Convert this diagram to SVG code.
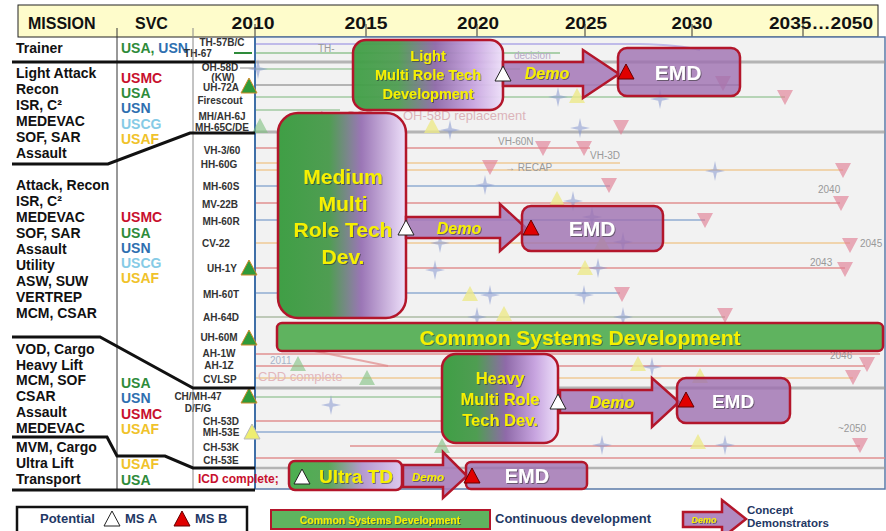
<svg xmlns="http://www.w3.org/2000/svg" width="886" height="531" viewBox="0 0 886 531">
<defs>
<style>
.hdr{font-family:"Liberation Sans",Arial,sans-serif;font-weight:bold;font-size:16px;fill:#111}
.mis{font-family:"Liberation Sans",Arial,sans-serif;font-weight:bold;font-size:14px;fill:#111}
.svc{font-family:"Liberation Sans",Arial,sans-serif;font-weight:bold;font-size:14px}
.usmc{fill:#c8102e}.usa{fill:#2e8b3a}.usn{fill:#2e6fb0}.uscg{fill:#86cbe6}.usaf{fill:#f0c22a}
.ac{font-family:"Liberation Sans",Arial,sans-serif;font-weight:bold;font-size:10px;fill:#333;text-anchor:middle}
.sep{fill:none;stroke:#111;stroke-width:3}
.box{stroke:#b3162b;stroke-width:2.5}
.yt{font-family:"Liberation Sans",Arial,sans-serif;font-weight:bold;fill:#f6f000;text-anchor:middle;filter:url(#sh)}
.emd{font-family:"Liberation Sans",Arial,sans-serif;font-weight:bold;fill:#fff;text-anchor:middle;filter:url(#sh)}
.demo{font-family:"Liberation Sans",Arial,sans-serif;font-weight:bold;font-style:italic;fill:#f6f000;text-anchor:middle;filter:url(#sh)}
.arrow{fill:#a67ab8;fill-opacity:.88;stroke:#b3162b;stroke-width:2.5;stroke-linejoin:miter}
.emdbox{fill:#9e6fb0;fill-opacity:.8}
.tw{fill:#fff;stroke:#222;stroke-width:1}
.tr{fill:#e00000;stroke:#600;stroke-width:1}
.bl{stroke-width:2;fill:none}
.faint{font-family:"Liberation Sans",Arial,sans-serif;font-size:10px;fill:#999}
.leg{font-family:"Liberation Sans",Arial,sans-serif;font-weight:bold;fill:#1f3864}
</style>
<filter id="sh" x="-10%" y="-20%" width="130%" height="150%"><feDropShadow dx="1" dy="1" stdDeviation="0.7" flood-color="#333" flood-opacity="0.55"/></filter>
<linearGradient id="mrtd" x1="0" y1="0" x2="1" y2="0">
<stop offset="0" stop-color="#3f9f45"/><stop offset="0.3" stop-color="#4f9d52"/><stop offset="0.55" stop-color="#8f6aa9"/><stop offset="0.8" stop-color="#c7a4df"/><stop offset="1" stop-color="#eee0fa"/>
</linearGradient>
<linearGradient id="mrtd2" x1="0" y1="0" x2="1" y2="0">
<stop offset="0" stop-color="#3f9f45"/><stop offset="0.4" stop-color="#4f9d52"/><stop offset="0.65" stop-color="#9b76b6"/><stop offset="1" stop-color="#eee0fa"/>
</linearGradient>
<linearGradient id="ultra" x1="0" y1="0" x2="1" y2="0">
<stop offset="0" stop-color="#4caf50"/><stop offset="0.35" stop-color="#5aa85a"/><stop offset="0.65" stop-color="#b59ad0"/><stop offset="1" stop-color="#dcc8ee"/>
</linearGradient>
<path id="star" d="M0,-10 L1.8,-1.8 L10,0 L1.8,1.8 L0,10 L-1.8,1.8 L-10,0 L-1.8,-1.8 Z" fill="#8797cf" fill-opacity="0.55"/>
<path id="dn" d="M-8,-7 L8,-7 L0,8 Z" fill="#e07f95" fill-opacity="0.65"/>
<path id="upy" d="M0,-8 L8,7 L-8,7 Z" fill="#ece98a" fill-opacity="0.8"/>
<path id="upg" d="M0,-8 L8,7 L-8,7 Z" fill="#7fbf7f" fill-opacity="0.6"/>
<path id="upG" d="M0,-8 L8,7 L-8,7 Z" fill="#2f9a3a" stroke="#d08a2a" stroke-width="1"/>
<path id="tri" d="M0,-8 L8,7 L-8,7 Z"/>
</defs>

<rect x="0" y="0" width="886" height="531" fill="#fff"/>

<g id="header">
<rect x="18" y="5" width="860" height="32" fill="#fefccb" stroke="#222" stroke-width="1"/>
<text class="hdr" x="28" y="29">MISSION</text>
<text class="hdr" x="135" y="29">SVC</text>
<text class="hdr" x="253" y="29" text-anchor="middle" textLength="43" lengthAdjust="spacingAndGlyphs" font-size="17">2010</text>
<text class="hdr" x="366" y="29" text-anchor="middle" textLength="43" lengthAdjust="spacingAndGlyphs" font-size="17">2015</text>
<text class="hdr" x="478" y="29" text-anchor="middle" textLength="42" lengthAdjust="spacingAndGlyphs" font-size="17">2020</text>
<text class="hdr" x="586" y="29" text-anchor="middle" textLength="42" lengthAdjust="spacingAndGlyphs" font-size="17">2025</text>
<text class="hdr" x="692" y="29" text-anchor="middle" textLength="41" lengthAdjust="spacingAndGlyphs" font-size="17">2030</text>
<text class="hdr" x="821" y="29" text-anchor="middle" textLength="104" lengthAdjust="spacingAndGlyphs" font-size="17">2035…2050</text>
<g stroke="#333" stroke-width="1">
<line x1="255" y1="24" x2="255" y2="37"/><line x1="366" y1="24" x2="366" y2="37"/><line x1="477" y1="24" x2="477" y2="37"/>
<line x1="585" y1="24" x2="585" y2="37"/><line x1="692" y1="24" x2="692" y2="37"/><line x1="803" y1="24" x2="803" y2="37"/>
</g>
</g>

<g id="timeline-panel">
<rect x="255" y="37" width="630" height="452" fill="#f2f2f2" stroke="#5a7aa8" stroke-width="1.5"/>
<g class="bl" stroke-opacity="0.7">
<path d="M255,44 L640,44 Q680,45 700,50" stroke="#aaa2e6"/>
<line x1="255" y1="53" x2="560" y2="53" stroke="#8cc08c"/>
<line x1="255" y1="62" x2="885" y2="62" stroke="#9a9a9a" stroke-width="3"/>
<line x1="255" y1="69" x2="520" y2="69" stroke="#9cc89c"/>
<line x1="255" y1="85" x2="740" y2="85" stroke="#9a9a9a"/>
<line x1="255" y1="97" x2="785" y2="97" stroke="#9cc89c"/>
<line x1="255" y1="110" x2="340" y2="110" stroke="#9cc89c"/>
<line x1="255" y1="132" x2="885" y2="132" stroke="#9a9a9a" stroke-width="3"/>
<line x1="255" y1="148" x2="590" y2="148" stroke="#e08a8a"/>
<line x1="255" y1="163" x2="620" y2="163" stroke="#f0c890"/>
<line x1="255" y1="170" x2="843" y2="170" stroke="#f0c890"/>
<line x1="255" y1="186" x2="610" y2="186" stroke="#8aa8d0"/>
<line x1="255" y1="203" x2="840" y2="203" stroke="#e08a8a"/>
<line x1="255" y1="220" x2="705" y2="220" stroke="#8aa8d0"/>
<line x1="255" y1="243" x2="850" y2="243" stroke="#f0c890"/>
<line x1="255" y1="268" x2="845" y2="268" stroke="#e08a8a"/>
<line x1="255" y1="293" x2="620" y2="293" stroke="#8aa8d0"/>
<line x1="255" y1="317" x2="725" y2="317" stroke="#a8b8a0"/>
<line x1="255" y1="354" x2="880" y2="354" stroke="#e08a8a"/>
<line x1="255" y1="366" x2="865" y2="366" stroke="#e08a8a"/>
<line x1="255" y1="378" x2="853" y2="378" stroke="#f0c890"/>
<line x1="255" y1="388" x2="885" y2="388" stroke="#9a9a9a" stroke-width="3"/>
<line x1="255" y1="397" x2="442" y2="397" stroke="#9cc89c"/>
<line x1="255" y1="421" x2="442" y2="421" stroke="#e08a8a"/>
<line x1="255" y1="432" x2="442" y2="432" stroke="#8aa8d0"/>
<line x1="350" y1="446" x2="860" y2="446" stroke="#e08a8a"/>
<line x1="255" y1="458" x2="885" y2="458" stroke="#e08a8a"/>
<line x1="255" y1="468" x2="885" y2="468" stroke="#9a9a9a" stroke-width="2.5"/>
<line x1="280" y1="344" x2="388" y2="366" stroke="#e08a8a"/>
</g>
<line x1="255" y1="37" x2="255" y2="489" stroke="#3f6fa8" stroke-width="2"/>
<g>
<use href="#star" x="258" y="69"/><use href="#star" x="286" y="150"/><use href="#star" x="450" y="130"/>
<use href="#star" x="558" y="97"/><use href="#star" x="660" y="99"/><use href="#star" x="580" y="128"/>
<use href="#star" x="485" y="185"/><use href="#star" x="715" y="171"/><use href="#star" x="573" y="201"/>
<use href="#star" x="592" y="217"/><use href="#star" x="623" y="242"/><use href="#star" x="598" y="268"/>
<use href="#star" x="440" y="243"/><use href="#star" x="435" y="270"/><use href="#star" x="490" y="295"/>
<use href="#star" x="477" y="317"/><use href="#star" x="584" y="295"/><use href="#star" x="623" y="317"/>
<use href="#star" x="652" y="367"/><use href="#star" x="602" y="445"/><use href="#star" x="725" y="445"/>
<use href="#star" x="622" y="402"/><use href="#star" x="331" y="405"/>
<use href="#dn" x="723" y="83"/><use href="#dn" x="785" y="97"/><use href="#dn" x="621" y="127"/>
<use href="#dn" x="543" y="148"/><use href="#dn" x="584" y="148"/><use href="#dn" x="490" y="167"/>
<use href="#dn" x="609" y="185"/><use href="#dn" x="843" y="170"/><use href="#dn" x="841" y="203"/>
<use href="#dn" x="705" y="220"/><use href="#dn" x="850" y="245"/><use href="#dn" x="845" y="269"/>
<use href="#dn" x="622" y="294"/><use href="#dn" x="725" y="315"/><use href="#dn" x="867" y="364"/>
<use href="#dn" x="853" y="377"/><use href="#dn" x="860" y="445"/>
<use href="#upy" x="432" y="126"/><use href="#upy" x="577" y="96"/><use href="#upy" x="557" y="199"/>
<use href="#upy" x="470" y="294"/><use href="#upy" x="504" y="314"/><use href="#upy" x="585" y="268"/>
<use href="#upy" x="638" y="364"/><use href="#upy" x="700" y="376"/><use href="#upy" x="698" y="442"/>
<use href="#upy" x="602" y="243"/>
<use href="#upg" x="260" y="126"/><use href="#upg" x="298" y="364"/><use href="#upg" x="367" y="378"/>
<use href="#upg" x="442" y="446"/>
</g>
<g class="faint">
<text x="318" y="52">TH-</text>
<text x="514" y="59" fill="#b9a9c8">decision</text>
<text x="320" y="120" font-size="13" fill="#dcb4ba">Iraq OCD</text>
<text x="403" y="120" font-size="13" fill="#dcb4ba">OH-58D replacement</text>
<text x="498" y="145">VH-60N</text>
<text x="590" y="159">VH-3D</text>
<text x="505" y="171">→ RECAP</text>
<text x="818" y="193">2040</text>
<text x="860" y="247">2045</text>
<text x="810" y="266">2043</text>
<text x="830" y="359">2046</text>
<text x="838" y="432">~2050</text>
<text x="270" y="364" fill="#a8b4c8">2011</text>
<text x="258" y="381" font-size="13" fill="#e2b7bd">CDD complete</text>
</g>
</g>

<g id="mission-column">
<text class="mis" x="16" y="53">Trainer</text>
<text class="mis"><tspan x="16" y="78">Light Attack</tspan><tspan x="16" y="94">Recon</tspan><tspan x="16" y="110">ISR, C²</tspan><tspan x="16" y="126">MEDEVAC</tspan><tspan x="16" y="142">SOF, SAR</tspan><tspan x="16" y="158">Assault</tspan></text>
<text class="mis"><tspan x="16" y="190">Attack, Recon</tspan><tspan x="16" y="206">ISR, C²</tspan><tspan x="16" y="222">MEDEVAC</tspan><tspan x="16" y="238">SOF, SAR</tspan><tspan x="16" y="254">Assault</tspan><tspan x="16" y="270">Utility</tspan><tspan x="16" y="286">ASW, SUW</tspan><tspan x="16" y="302">VERTREP</tspan><tspan x="16" y="318">MCM, CSAR</tspan></text>
<text class="mis"><tspan x="16" y="354">VOD, Cargo</tspan><tspan x="16" y="370">Heavy Lift</tspan><tspan x="16" y="385">MCM, SOF</tspan><tspan x="16" y="401">CSAR</tspan><tspan x="16" y="417">Assault</tspan><tspan x="16" y="433">MEDEVAC</tspan></text>
<text class="mis"><tspan x="16" y="452">MVM, Cargo</tspan><tspan x="16" y="468">Ultra Lift</tspan><tspan x="16" y="484">Transport</tspan></text>
</g>

<g id="svc-column" class="svc">
<text x="121" y="53"><tspan class="usa">USA,</tspan> <tspan class="usn">USN</tspan></text>
<text class="usmc" x="121" y="83">USMC</text><text class="usa" x="121" y="98">USA</text><text class="usn" x="121" y="113">USN</text><text class="uscg" x="121" y="129">USCG</text><text class="usaf" x="121" y="144">USAF</text>
<text class="usmc" x="121" y="222">USMC</text><text class="usa" x="121" y="238">USA</text><text class="usn" x="121" y="253">USN</text><text class="uscg" x="121" y="268">USCG</text><text class="usaf" x="121" y="283">USAF</text>
<text class="usa" x="121" y="388">USA</text><text class="usn" x="121" y="403">USN</text><text class="usmc" x="121" y="419">USMC</text><text class="usaf" x="121" y="434">USAF</text>
<text class="usaf" x="121" y="469">USAF</text><text class="usa" x="121" y="485">USA</text>
</g>

<g id="aircraft-column">
<text class="ac" x="222" y="46" font-size="9.5">TH-57B/C</text>
<text class="ac" x="198" y="57" text-anchor="start" font-size="9.5">TH-67</text>
<line x1="234" y1="53" x2="252" y2="53" stroke="#2e8b3a" stroke-width="2"/>
<text class="ac" x="220" y="71" font-size="9.5">OH-58D</text>
<line x1="240" y1="68" x2="254" y2="68" stroke="#888" stroke-width="1"/>
<text class="ac" x="223" y="81" font-size="9">(KW)</text>
<text class="ac" x="221" y="91" font-size="9.5">UH-72A</text>
<text class="ac" x="220" y="104">Firescout</text>
<text class="ac" x="222" y="120" font-size="9.5">MH/AH-6J</text>
<text class="ac" x="222" y="131" font-size="9.5">MH-65C/DE</text>
<text class="ac" x="222" y="154">VH-3/60</text>
<text class="ac" x="219" y="168">HH-60G</text>
<text class="ac" x="221" y="190">MH-60S</text>
<text class="ac" x="220" y="208">MV-22B</text>
<text class="ac" x="221" y="225">MH-60R</text>
<text class="ac" x="216" y="247">CV-22</text>
<text class="ac" x="222" y="272">UH-1Y</text>
<text class="ac" x="221" y="298">MH-60T</text>
<text class="ac" x="221" y="321">AH-64D</text>
<text class="ac" x="219" y="341">UH-60M</text>
<text class="ac" x="219" y="357">AH-1W</text>
<text class="ac" x="219" y="369">AH-1Z</text>
<text class="ac" x="220" y="383">CVLSP</text>
<text class="ac" x="198" y="400" text-anchor="start">CH/MH-47</text>
<text class="ac" x="198" y="412" text-anchor="start">D/F/G</text>
<text class="ac" x="221" y="425" font-size="9.5">CH-53D</text>
<text class="ac" x="221" y="436" font-size="9.5">MH-53E</text>
<text class="ac" x="221" y="451">CH-53K</text>
<text class="ac" x="221" y="464">CH-53E</text>
<text x="198" y="483" font-family="Liberation Sans, Arial, sans-serif" font-weight="bold" font-size="12" fill="#c8102e">ICD complete;</text>
<use href="#upG" x="249" y="86"/><use href="#upG" x="249" y="268"/><use href="#upG" x="249" y="338"/><use href="#upG" x="249" y="396"/>
<path d="M252,424 L260,439 L244,439 Z" fill="#eeee70" stroke="#bbb" stroke-width="1"/>
</g>

<g id="separators">
<line x1="117" y1="28" x2="117" y2="489" stroke="#333" stroke-width="1"/>
<line x1="193" y1="28" x2="193" y2="489" stroke="#888" stroke-width="1"/>
<line class="sep" x1="12" y1="62" x2="255" y2="62"/>
<polyline class="sep" points="12,164 108,164 190,133 255,133"/>
<polyline class="sep" points="12,337 100,337 193,388 255,388"/>
<polyline class="sep" points="12,437 107,437 117,456 165,456 193,468 255,468"/>
<line class="sep" x1="12" y1="490" x2="255" y2="490"/>
</g>

<g id="light-mrtd">
<rect class="box" x="353" y="40" width="150" height="70" rx="13" fill="url(#mrtd)" fill-opacity="0.95"/>
<text class="yt" font-size="14.5"><tspan x="428" y="61">Light</tspan><tspan x="428" y="80">Multi Role Tech</tspan><tspan x="428" y="99">Development</tspan></text>
</g>
<g id="medium-mrtd">
<rect class="box" x="278" y="113" width="128" height="205" rx="20" fill="url(#mrtd2)"/>
<text class="yt" font-size="21"><tspan x="343" y="184">Medium</tspan><tspan x="343" y="211">Multi</tspan><tspan x="343" y="237">Role Tech</tspan><tspan x="343" y="264">Dev.</tspan></text>
</g>
<g id="heavy-mrtd">
<rect class="box" x="442" y="354" width="116" height="89" rx="14" fill="url(#mrtd)"/>
<text class="yt" font-size="16.5"><tspan x="500" y="384">Heavy</tspan><tspan x="500" y="405">Multi Role</tspan><tspan x="500" y="426">Tech Dev.</tspan></text>
</g>
<g id="common-systems">
<rect class="box" x="277" y="323" width="606" height="28" rx="5" fill="#5fb35f"/>
<text class="yt" x="580" y="345" font-size="21">Common Systems Development</text>
</g>
<g id="ultra-td">
<rect class="box" x="289" y="461" width="113" height="29" rx="6" fill="url(#ultra)"/>
<text class="yt" x="356" y="483" font-size="19">Ultra TD</text>
</g>

<g id="connectors">
<path class="arrow" d="M503,62 L583,62 L583,50 L619,74 L583,98 L583,86 L503,86 Z"/>
<text class="demo" x="547" y="79" font-size="16">Demo</text>
<path class="arrow" d="M406,217 L500,217 L500,204 L526,228 L500,251 L500,238 L406,238 Z"/>
<text class="demo" x="459" y="234" font-size="16">Demo</text>
<path class="arrow" d="M560,390 L652,390 L652,378 L679,402 L652,427 L652,413 L560,413 Z"/>
<text class="demo" x="612" y="408" font-size="16">Demo</text>
<path class="arrow" d="M403,465 L443,465 L443,452 L467,476 L443,498 L443,487 L403,487 Z"/>
<text class="demo" x="428" y="481" font-size="11.5">Demo</text>
</g>

<g id="light-emd">
<rect class="box emdbox" x="618" y="48" width="122" height="48" rx="9"/>
<text class="emd" x="678" y="80" font-size="21">EMD</text>
</g>
<g id="medium-emd">
<rect class="box emdbox" x="522" y="206" width="141" height="45" rx="9"/>
<text class="emd" x="592" y="236" font-size="21">EMD</text>
</g>
<g id="heavy-emd">
<rect class="box emdbox" x="677" y="378" width="113" height="45" rx="9"/>
<text class="emd" x="733" y="408" font-size="19">EMD</text>
</g>
<g id="ultra-emd">
<rect class="box emdbox" x="466" y="462" width="121" height="27" rx="5"/>
<text class="emd" x="527" y="483" font-size="20">EMD</text>
</g>

<g id="milestones">
<use href="#tri" class="tw" x="503" y="74"/>
<use href="#tri" class="tr" x="626" y="72"/>
<use href="#tri" class="tw" x="406" y="228"/>
<use href="#tri" class="tr" x="531" y="228"/>
<use href="#tri" class="tw" x="558" y="402"/>
<use href="#tri" class="tr" x="686" y="400"/>
<use href="#tri" class="tw" x="302" y="477"/>
<use href="#tri" class="tr" x="472" y="476"/>
</g>

<g id="legend">
<rect x="17" y="507" width="230" height="26" fill="#fff" stroke="#111" stroke-width="2.5"/>
<text class="leg" x="40" y="523" font-size="13">Potential</text>
<use href="#tri" class="tw" x="112" y="519"/>
<text class="leg" x="125" y="523" font-size="13">MS A</text>
<use href="#tri" class="tr" x="182" y="519"/>
<text class="leg" x="195" y="523" font-size="13">MS B</text>
<rect x="271" y="510" width="219" height="19" fill="#5fb35f" stroke="#b3162b" stroke-width="2"/>
<text class="yt" x="380" y="523.5" font-size="10.5">Common Systems Development</text>
<text class="leg" x="495" y="523" font-size="13">Continuous development</text>
<path class="arrow" d="M683,512 L722,512 L722,500 L746,519 L722,538 L722,527 L683,527 Z"/>
<text class="demo" x="704" y="523" font-size="9">Demo</text>
<text class="leg" x="747" y="514" font-size="11.5">Concept</text>
<text class="leg" x="747" y="527" font-size="11.5">Demonstrators</text>
</g>
</svg>
